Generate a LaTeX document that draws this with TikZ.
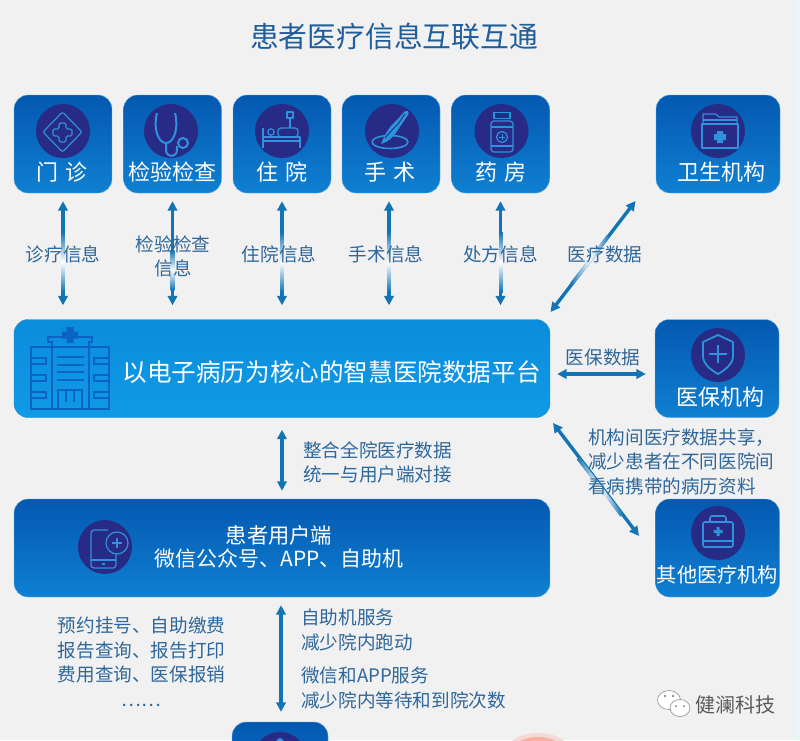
\documentclass[tikz,border=0pt]{standalone}
\usepackage{fontspec}
\setmainfont{Noto Sans CJK SC}
\usetikzlibrary{arrows.meta,calc,shapes.geometric}
\definecolor{bgc}{HTML}{F1F1F2}
\definecolor{edgec}{HTML}{EAF6FA}
\definecolor{pinkc}{HTML}{F9AFA2}
\definecolor{boxtop}{HTML}{0458B0}
\definecolor{boxbot}{HTML}{0F80D2}
\definecolor{plattop}{HTML}{0B8CDC}
\definecolor{platbot}{HTML}{0F9AE6}
\definecolor{arr}{HTML}{1274B4}
\definecolor{labelc}{HTML}{2F679A}
\definecolor{disc}{HTML}{272B85}
\definecolor{ico}{HTML}{2E92DC}
\definecolor{bldg}{HTML}{0A62C4}
\definecolor{titlec}{HTML}{1F5E9C}
\tikzset{
  x=1pt,y=-1pt,
  card/.style={rounded corners=14pt,draw=white!40!boxbot,line width=0.4pt,top color=boxtop,bottom color=boxbot,minimum height=98pt,inner sep=0pt},
  platcard/.style={rounded corners=14pt,draw=cyan!30!plattop,line width=0.4pt,top color=plattop,bottom color=platbot,minimum height=98pt,minimum width=536pt,inner sep=0pt},
  cardtext/.style={text=white,font=\fontsize{22}{24}\selectfont,inner sep=0pt,anchor=center},
  lab/.style={text=labelc,font=\fontsize{18.6}{24.5}\selectfont,inner sep=0pt,align=center},
  lableft/.style={lab,align=left,anchor=west},
  conn/.style={arr,line width=3.4pt,{Triangle[width=9.5pt,length=9.5pt]}-{Triangle[width=9.5pt,length=9.5pt]}},
  dot/.style={fill=disc,draw=none},
  icon/.style={draw=ico,line width=1.2pt,line join=round,fill=none},
  bld/.style={draw=bldg,line width=2.3pt,fill=none},
}
\newcommand{\fadev}[3]{\shade[top color=arr,bottom color=arr,middle color=white] (#1-1.8,#2) rectangle (#1+1.8,#3);}
\begin{document}
\begin{tikzpicture}
\useasboundingbox (0,0) rectangle (800,740);
\clip (0,0) rectangle (800,740);
\fill[bgc] (0,0) rectangle (800,740);
\fill[edgec] (794,0) rectangle (800,740);
\fill[pinkc!35!bgc] (538,749) ellipse (30 and 16);
\fill[pinkc] (538,749) ellipse (24 and 12);

\node[text=titlec,font=\fontsize{28.8}{32}\selectfont,inner sep=0pt] (title) at (394,37) {患者医疗信息互联互通};

% cards
\node[card,minimum width=98pt] (men) at (63,144) {};
\node[card,minimum width=98pt] (jian) at (172.5,144) {};
\node[card,minimum width=98pt] (zhu) at (282,144) {};
\node[card,minimum width=98pt] (shou) at (391,144) {};
\node[card,minimum width=98pt] (yao) at (500.5,144) {};
\node[card,minimum width=124pt] (wei) at (718,144) {};
\node[platcard] (plat) at (282,368.5) {};
\node[card,minimum width=124pt] (yib) at (717,368.5) {};
\node[card,minimum width=536pt] (user) at (282,548) {};
\node[card,minimum width=124pt] (qita) at (717.5,548) {};
\node[card,minimum width=96pt] (bot) at (280,771) {};

% discs
\fill[dot] (63,131) circle (27);
\fill[dot] (171,131) circle (27);
\fill[dot] (282,131) circle (27);
\fill[dot] (392,131) circle (27);
\fill[dot] (501.5,131) circle (27);
\fill[dot] (718,131) circle (27);
\fill[dot] (718,355) circle (27);
\fill[dot] (718,533) circle (27);
\fill[dot] (105,547) circle (27);
\fill[dot] (280,759) circle (27);
\fill[ico] (280,742) circle (4);

% icon 门诊
\draw[icon,rounded corners=2pt] (62.5,112) -- (82,132) -- (62.5,152) -- (43,132) -- cycle;
\draw[icon,rounded corners=1.5pt] (59,123)--(66,123)--(66,129)--(72,129)--(72,136)--(66,136)--(66,142)--(59,142)--(59,136)--(53,136)--(53,129)--(59,129)--cycle;
% icon stethoscope
\draw[icon,line width=2pt] (157,113) .. controls (153,128) and (158,143) .. (166,143) .. controls (174,143) and (179,128) .. (175,113);
\draw[icon,line width=2pt] (166,143) -- (166,150) .. controls (166,158) and (177,158) .. (177,150) -- (177,146);
\draw[icon,line width=2pt] (183,143) circle (5);
% icon bed
\draw[icon] (263,128) -- (263,148);
\draw[icon] (263,141) -- (300,141) -- (300,148);
\draw[icon] (263,137) -- (300,137) -- (300,141);
\draw[icon] (271,132) circle (3.2);
\draw[icon,rounded corners=3pt] (278,128) rectangle (298,137);
\draw[icon] (290,128) -- (290,118);
\draw[icon] (287,112) rectangle (293,118);
% icon scalpel
\draw[icon,line width=1.6pt] (390,142) ellipse (18 and 6.5);
\fill[ico] (381,144) .. controls (385,134) and (389,127) .. (395,122) -- (404,112) .. controls (407,109) and (410,112) .. (408,115) -- (399,128) .. controls (394,137) and (388,142) .. (381,144) -- cycle;
\draw[disc,line width=0.9pt] (385,138) .. controls (390,132) and (394,128) .. (398,124) -- (405,114);
% icon bottle
\draw[icon] (494,112.5) rectangle (510,118.5);
\draw[icon,rounded corners=3pt] (491,121) rectangle (513,152);
\draw[icon] (491,127) -- (513,127);
\draw[icon] (491,146) -- (513,146);
\draw[icon] (502,137) circle (5.5);
\draw[icon,line width=1pt] (499,137) -- (505,137) (502,134) -- (502,140);
% icon folder
\draw[icon] (703,124) -- (703,114) -- (716,114) -- (719,117) -- (737,117) -- (737,124);
\draw[icon] (703,120) -- (737,120);
\draw[icon] (702,148) rectangle (738,124);
\fill[ico] (717,131) rectangle (723,143) (714,134) rectangle (726,140);
% icon shield
\draw[icon,line width=1.8pt] (718,335) -- (733,342) -- (733,356) .. controls (733,364) and (725,370) .. (718,374) .. controls (711,370) and (703,364) .. (703,356) -- (703,342) -- cycle;
\draw[ico,line width=1.8pt] (709,354) -- (727,354) (718,345) -- (718,363);
% icon case
\draw[icon,line width=1.6pt,rounded corners=2pt] (703,522) rectangle (733,547);
\draw[icon,line width=1.6pt,rounded corners=2pt] (710,522) -- (710,516) -- (726,516) -- (726,522);
\draw[icon,line width=1.6pt] (703,541) -- (733,541);
\fill[ico] (716.5,527) rectangle (719.5,536) (713.5,530) rectangle (722.5,533);
% icon phone
\draw[icon,rounded corners=3pt] (108,530) -- (91,530) -- (91,568) -- (116,568) -- (116,552);
\draw[icon] (91,560) -- (116,560);
\draw[ico,line width=1.2pt] (102,564) -- (105,564);
\draw[icon,fill=disc] (117,543) circle (11);
\draw[icon] (117,538) -- (117,548) (112,543) -- (122,543);
% hospital icon
\draw[bld] (31,347) rectangle (109,409);
\draw[bld] (52,347) -- (52,409) (89,347) -- (89,409);
\draw[bld] (52,347) -- (52,342) -- (48,342) -- (48,337) -- (92,337) -- (92,342) -- (89,342) -- (89,347);
\fill[bldg] (66.5,327) rectangle (73.5,343) (62,331.5) rectangle (78,338.5);
\draw[bld] (57,357) -- (84,357) (57,365) -- (84,365) (57,372) -- (84,372) (57,380) -- (84,380);
\draw[bld] (58,409) -- (58,390) -- (82,390) -- (82,409) (66,390) -- (66,402) (74,390) -- (74,402);
\foreach \yy in {358,375,392}{
  \draw[bld] (31,\yy) -- (46,\yy) -- (46,\yy+6) -- (31,\yy+6);
  \draw[bld] (109,\yy) -- (94,\yy) -- (94,\yy+6) -- (109,\yy+6);
}

% card text
\node[cardtext] (tmen) at (62,172) {门\hspace{8pt}诊};
\node[cardtext] (tjian) at (172.5,172) {检验检查};
\node[cardtext] (tzhu) at (282,172) {住\hspace{8pt}院};
\node[cardtext] (tshou) at (390,172) {手\hspace{8pt}术};
\node[cardtext] (tyao) at (501,172) {药\hspace{8pt}房};
\node[cardtext] (twei) at (721,172) {卫生机构};
\node[cardtext] (tyib) at (720,397) {医保机构};
\node[cardtext,font=\fontsize{20.2}{24}\selectfont] (tqita) at (717.5,575) {其他医疗机构};
\node[text=white,font=\fontsize{24.6}{28}\selectfont,inner sep=0pt] (tplat) at (331.5,372) {以电子病历为核心的智慧医院数据平台};
\node[text=white,font=\fontsize{21.3}{24}\selectfont,inner sep=0pt] (tuser1) at (279,535) {患者用户端};
\node[text=white,font=\fontsize{20.9}{24}\selectfont,inner sep=0pt] (tuser2) at (279,559) {微信公众号、APP、自助机};

% connectors
\coordinate (dA) at (550.5,312);
\coordinate (dB) at (635.5,201);
\coordinate (eA) at (553,423);
\coordinate (eB) at (639,536);
\draw[conn,shorten <=8pt,shorten >=14pt] (men.south) -- (men.south |- plat.north);
\draw[conn,shorten <=8pt,shorten >=14pt] (jian.south) -- (jian.south |- plat.north);
\draw[conn,shorten <=8pt,shorten >=14pt] (zhu.south) -- (zhu.south |- plat.north);
\draw[conn,shorten <=8pt,shorten >=14pt] ([xshift=-2pt]shou.south) -- ([xshift=-2pt]shou.south |- plat.north);
\draw[conn,shorten <=8pt,shorten >=14pt] (yao.south) -- (yao.south |- plat.north);
\draw[conn] (dA) -- (dB);
\draw[conn,shorten <=7pt,shorten >=9pt] ([yshift=-5.5pt]plat.east) -- ([yshift=-5.5pt]yib.west);
\draw[conn] (eA) -- (eB);
\draw[conn,shorten <=12pt,shorten >=8pt] (plat.south) -- (user.north);
\draw[conn,shorten <=8pt,shorten >=10pt] ([xshift=-1pt]user.south) -- ([xshift=-1pt]user.south |- bot.north);

% fades on shafts
\fadev{63}{232}{292}
\fadev{172.5}{250}{290}
\fadev{282}{232}{292}
\fadev{389}{232}{292}
\fadev{501}{232}{292}
\begin{scope}[shift={(590,260)},rotate=52.6]
\shade[top color=arr,bottom color=arr,middle color=white,shading angle=90] (-30,-1.8) rectangle (30,1.8);
\end{scope}
\begin{scope}[shift={(600,487)},rotate=-52.7]
\shade[top color=arr,bottom color=arr,middle color=white,shading angle=90] (-36,-1.8) rectangle (36,1.8);
\end{scope}

% labels
\node[lab] (l1) at (63,254.5) {诊疗信息};
\node[lab] (l2) at (173,256.5) {检验检查\\信息};
\node[lab] (l3) at (279,254.5) {住院信息};
\node[lab] (l4) at (386,254.5) {手术信息};
\node[lab] (l5) at (500.5,254.5) {处方信息};
\node[lab] (l6) at (605,254.5) {医疗数据};
\node[lab] (l7) at (603,357) {医保数据};
\node[lableft] (l8) at (588,461.5) {机构间医疗数据共享，\\减少患者在不同医院间\\看病携带的病历资料};
\node[lableft] (l9) at (303,462.5) {整合全院医疗数据\\统一与用户端对接};
\node[lab] (l10) at (141.5,662) {预约挂号、自助缴费\\报告查询、报告打印\\费用查询、医保报销\\……};
\node[lableft] (l11) at (301,630) {自助机服务\\减少院内跑动};
\node[lableft] (l12) at (301,688) {微信和APP服务\\减少院内等待和到院次数};

% watermark
\draw[fill=white,draw=black!45,line width=0.6pt] (669,700) ellipse (11.5 and 9.5);
\draw[fill=white,draw=black!45,line width=0.6pt] (680,708) ellipse (10 and 8.5);
\fill[black!55] (665,696) circle (1.2) (673,696) circle (1.2) (676,706) circle (1) (684,706) circle (1);
\node[text=black!65,font=\fontsize{20}{22}\selectfont,inner sep=0pt] (wm) at (735.5,705) {健澜科技};
\end{tikzpicture}
\end{document}
